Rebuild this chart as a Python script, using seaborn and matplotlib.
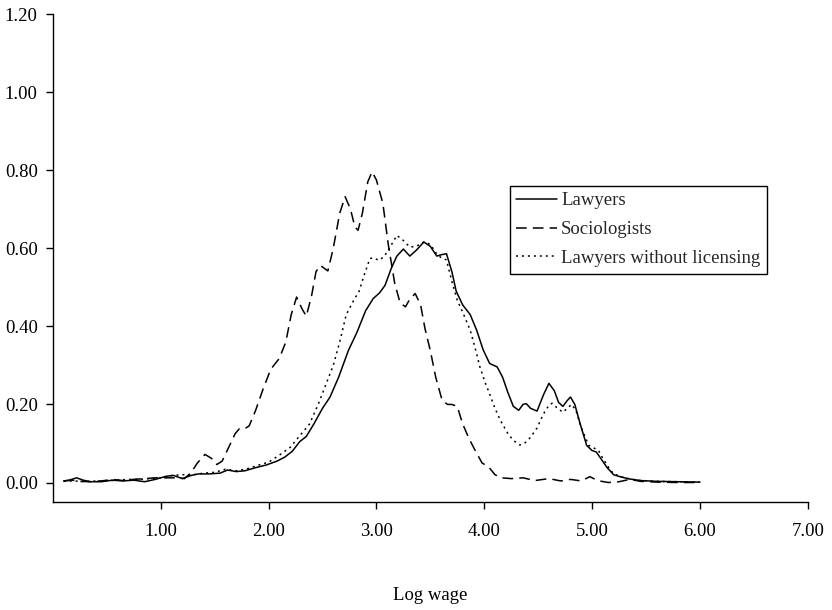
import matplotlib
matplotlib.use("Agg")
import matplotlib.pyplot as plt
import seaborn as sns

# Log wage density
law_x = [0.10, 0.15, 0.22, 0.28, 0.35, 0.45, 0.55, 0.65, 0.75, 0.85, 0.95, 1.05, 1.12, 1.20, 1.28,
         1.35, 1.45, 1.55, 1.62, 1.70, 1.78, 1.88, 1.98, 2.08, 2.15, 2.22, 2.29, 2.35, 2.42, 2.50,
         2.57, 2.65, 2.74, 2.82, 2.90, 2.97, 3.03, 3.08, 3.14, 3.19, 3.25, 3.31, 3.37, 3.44, 3.50,
         3.56, 3.61, 3.65, 3.70, 3.74, 3.80, 3.87, 3.93, 3.99, 4.05, 4.12, 4.17, 4.22, 4.27, 4.32,
         4.36, 4.39, 4.43, 4.49, 4.55, 4.60, 4.65, 4.69, 4.73, 4.77, 4.80, 4.84, 4.89, 4.95, 5.00,
         5.04, 5.08, 5.14, 5.20, 5.27, 5.35, 5.45, 5.60, 5.80, 6.00]
law_y = [0.004, 0.006, 0.012, 0.006, 0.002, 0.002, 0.006, 0.004, 0.006, 0.002, 0.008, 0.016, 0.018, 0.010, 0.018,
         0.022, 0.022, 0.024, 0.032, 0.028, 0.030, 0.038, 0.045, 0.055, 0.065, 0.080, 0.105, 0.118, 0.150, 0.190,
         0.219, 0.270, 0.338, 0.385, 0.440, 0.471, 0.486, 0.505, 0.550, 0.580, 0.598, 0.580, 0.595, 0.616, 0.605,
         0.580, 0.584, 0.586, 0.540, 0.490, 0.455, 0.430, 0.390, 0.340, 0.305, 0.296, 0.270, 0.230, 0.195, 0.185,
         0.200, 0.202, 0.190, 0.183, 0.225, 0.254, 0.235, 0.205, 0.195, 0.210, 0.219, 0.200, 0.150, 0.095, 0.082,
         0.078, 0.062, 0.038, 0.020, 0.014, 0.009, 0.005, 0.003, 0.002, 0.001]

soc_x = [0.10, 0.18, 0.25, 0.35, 0.45, 0.55, 0.65, 0.75, 0.85, 0.95, 1.05, 1.15, 1.22, 1.28, 1.34,
         1.41, 1.47, 1.52, 1.57, 1.63, 1.69, 1.73, 1.78, 1.82, 1.88, 1.95, 2.02, 2.10, 2.16, 2.21,
         2.26, 2.31, 2.35, 2.40, 2.44, 2.48, 2.51, 2.55, 2.60, 2.66, 2.71, 2.76, 2.80, 2.83, 2.87,
         2.92, 2.96, 3.00, 3.06, 3.11, 3.17, 3.22, 3.27, 3.31, 3.36, 3.41, 3.45, 3.50, 3.55, 3.61,
         3.66, 3.70, 3.75, 3.80, 3.86, 3.92, 3.98, 4.04, 4.10, 4.16, 4.25, 4.36, 4.47, 4.60, 4.71,
         4.80, 4.90, 4.98, 5.05, 5.15, 5.25, 5.35, 5.45, 5.60, 5.80, 6.00]
soc_y = [0.004, 0.006, 0.003, 0.002, 0.004, 0.008, 0.005, 0.008, 0.010, 0.012, 0.012, 0.012, 0.010, 0.025, 0.050,
         0.072, 0.062, 0.046, 0.055, 0.090, 0.125, 0.138, 0.138, 0.145, 0.185, 0.240, 0.290, 0.318, 0.360, 0.430,
         0.475, 0.445, 0.426, 0.480, 0.540, 0.556, 0.550, 0.542, 0.600, 0.690, 0.732, 0.700, 0.655, 0.646, 0.690,
         0.770, 0.796, 0.775, 0.715, 0.610, 0.510, 0.460, 0.450, 0.470, 0.484, 0.455, 0.395, 0.338, 0.270, 0.210,
         0.200, 0.200, 0.195, 0.150, 0.112, 0.080, 0.050, 0.040, 0.020, 0.012, 0.010, 0.012, 0.005, 0.010, 0.004,
         0.008, 0.004, 0.015, 0.005, 0.000, 0.002, 0.008, 0.003, 0.001, 0.000, 0.000]

nolic_x = [0.10, 0.20, 0.30, 0.40, 0.50, 0.60, 0.70, 0.80, 0.90, 1.00, 1.10, 1.20, 1.30, 1.40, 1.50,
           1.60, 1.70, 1.80, 1.90, 2.00, 2.11, 2.20, 2.29, 2.38, 2.46, 2.53, 2.60, 2.66, 2.72, 2.79,
           2.84, 2.88, 2.94, 2.98, 3.02, 3.07, 3.12, 3.19, 3.25, 3.31, 3.37, 3.44, 3.50, 3.56, 3.60,
           3.65, 3.70, 3.75, 3.81, 3.87, 3.92, 3.96, 4.01, 4.05, 4.10, 4.15, 4.22, 4.27, 4.33, 4.38,
           4.43, 4.49, 4.55, 4.60, 4.63, 4.68, 4.73, 4.77, 4.81, 4.85, 4.90, 4.97, 5.02, 5.06, 5.10,
           5.15, 5.20, 5.28, 5.35, 5.45, 5.60, 5.80, 6.00]
nolic_y = [0.003, 0.004, 0.002, 0.004, 0.004, 0.006, 0.008, 0.008, 0.010, 0.012, 0.018, 0.020, 0.020, 0.024, 0.026,
           0.034, 0.030, 0.035, 0.044, 0.052, 0.072, 0.090, 0.120, 0.150, 0.200, 0.250, 0.300, 0.360, 0.430, 0.467,
           0.490, 0.526, 0.574, 0.575, 0.569, 0.578, 0.600, 0.633, 0.620, 0.603, 0.605, 0.616, 0.610, 0.585, 0.576,
           0.570, 0.515, 0.467, 0.430, 0.390, 0.340, 0.296, 0.255, 0.227, 0.190, 0.159, 0.125, 0.108, 0.096, 0.102,
           0.116, 0.140, 0.176, 0.198, 0.203, 0.190, 0.180, 0.190, 0.200, 0.185, 0.140, 0.095, 0.088, 0.082, 0.062,
           0.040, 0.022, 0.014, 0.009, 0.005, 0.003, 0.002, 0.001]

x_ticks = [1, 2, 3, 4, 5, 6, 7]
y_ticks = [0.0, 0.2, 0.4, 0.6, 0.8, 1.0, 1.2]

sns.set_theme(style="ticks")
plt.rcParams["font.family"] = ["Liberation Serif", "DejaVu Serif"]
plt.rcParams["font.size"] = 13.5

fig, ax = plt.subplots(figsize=(8.32, 6.10), dpi=100)
fig.subplots_adjust(left=0.0636, right=0.9708, bottom=0.177, top=0.977)

sns.lineplot(x=law_x, y=law_y, ax=ax, color="black", lw=1.1, sort=False,
             estimator=None, label="Lawyers")
sns.lineplot(x=soc_x, y=soc_y, ax=ax, color="black", lw=1.1, sort=False,
             estimator=None, label="Sociologists", linestyle=(0, (7, 4)))
sns.lineplot(x=nolic_x, y=nolic_y, ax=ax, color="black", lw=1.1, sort=False,
             estimator=None, label="Lawyers without licensing", linestyle=(0, (1.3, 2.6)))

ax.set_xlim(0, 7)
ax.set_ylim(-0.05, 1.2)
ax.set_xticks(x_ticks)
ax.set_xticklabels([f"{v:.2f}" for v in x_ticks])
ax.set_yticks(y_ticks)
ax.set_yticklabels([f"{v:.2f}" for v in y_ticks])
ax.tick_params(axis="both", direction="out", length=5, width=1, color="black",
               labelsize=13.5, labelcolor="black")
ax.tick_params(axis="x", pad=10)
ax.tick_params(axis="y", pad=6)
for s in ["left", "bottom"]:
    ax.spines[s].set_color("black")
    ax.spines[s].set_linewidth(1)
sns.despine(ax=ax)

ax.set_xlabel("Log wage", fontsize=13.5, labelpad=34, color="black")
ax.set_ylabel("")

leg = ax.legend(loc="upper right", bbox_to_anchor=(0.946, 0.648), borderaxespad=0,
                fontsize=13.5, frameon=True, fancybox=False, framealpha=1, edgecolor="black",
                handlelength=2.2, handletextpad=0.2, labelspacing=0.62, borderpad=0.35)
leg.get_frame().set_linewidth(1)

plt.savefig("out.png", dpi=100)
